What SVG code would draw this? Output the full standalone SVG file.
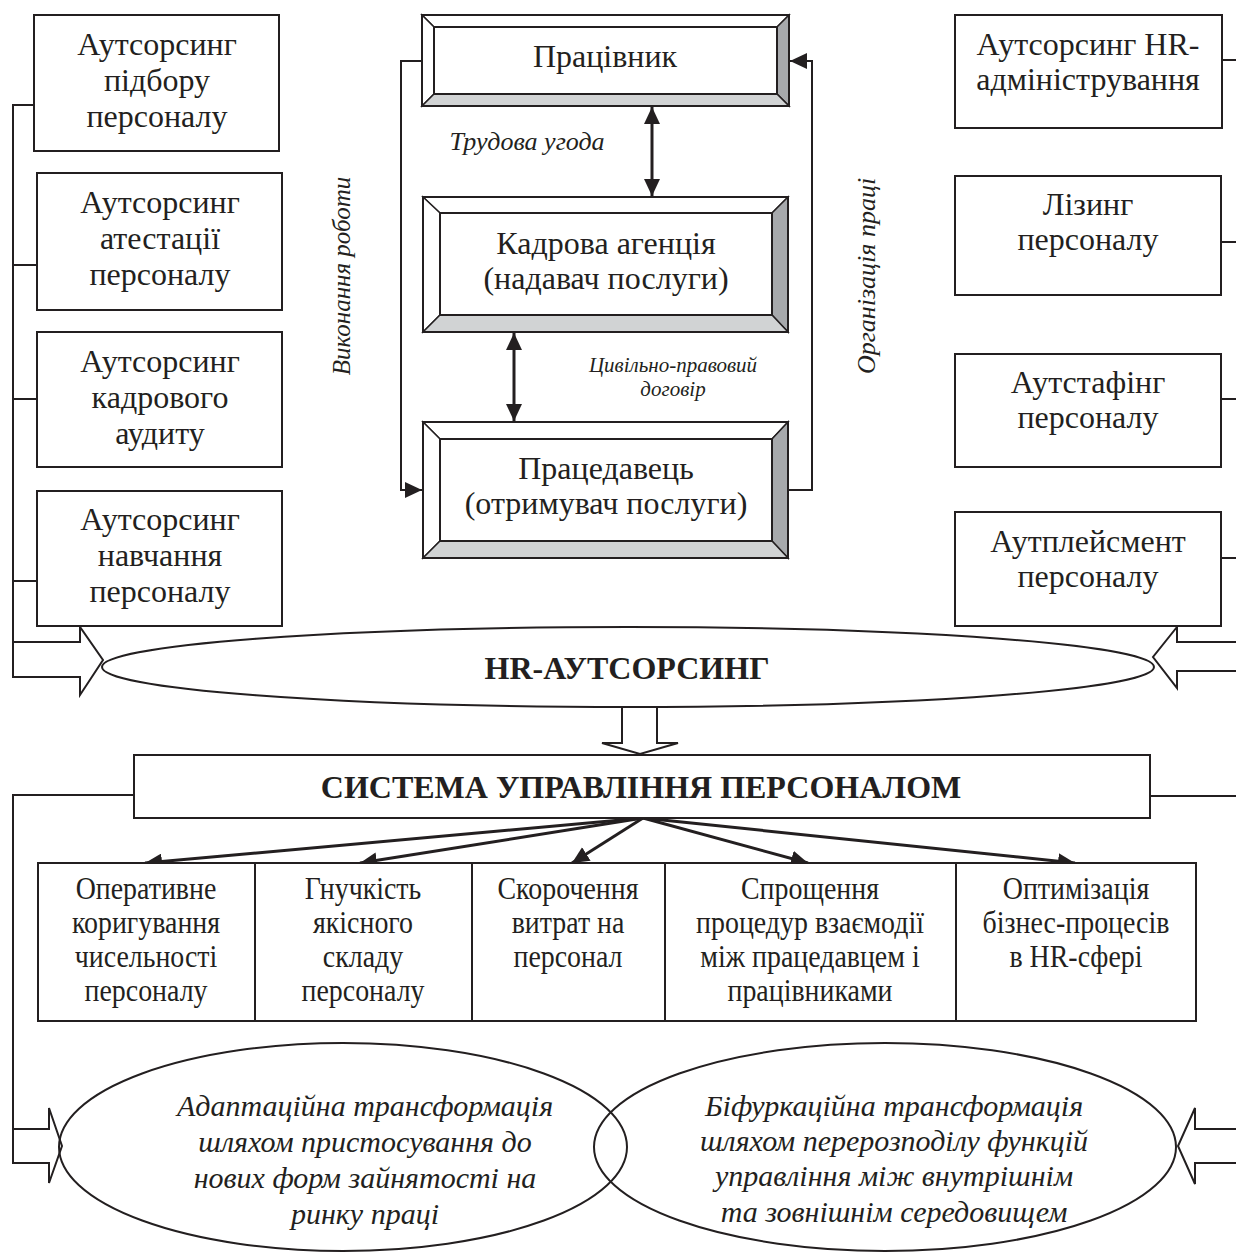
<svg xmlns="http://www.w3.org/2000/svg" width="1236" height="1255" viewBox="0 0 1236 1255">
<style>
.t{font-family:"Liberation Serif","Times New Roman",serif;font-size:32px;fill:#231f20;text-anchor:middle}
.c{font-size:31px}
.b{font-weight:bold;font-size:32px}
.i{font-style:italic;font-size:26px}
.ib{font-style:italic;font-size:30px}
.s{font-style:italic;font-size:21px}
.box{fill:#fff;stroke:#231f20;stroke-width:2}
.ln{fill:none;stroke:#231f20;stroke-width:2}
.th{fill:none;stroke:#231f20;stroke-width:3}
.bw{fill:#fff;stroke:#231f20;stroke-width:1.5;stroke-linejoin:miter}
.bd{fill:#a7a9ac;stroke:#231f20;stroke-width:1.5}
.bl{fill:#d1d3d4;stroke:#231f20;stroke-width:1.5}
.blk{fill:#fff;stroke:#231f20;stroke-width:2;stroke-linejoin:miter}
</style>
<defs>
<marker id="ah" markerUnits="userSpaceOnUse" markerWidth="18" markerHeight="16" refX="17" refY="8" orient="auto-start-reverse" viewBox="0 0 18 16">
<path d="M0,0 L17,8 L0,16 z" fill="#231f20"/>
</marker>
</defs>

<g id="block-arrows">
<polygon class="blk" points="13,642 80,642 80,627 103,660 80,695 80,677 13,677"/>
<polygon class="blk" points="1240,642 1177,642 1177,627 1153,657 1177,688 1177,671 1240,671"/>
<polygon class="blk" points="622,690 657,690 657,743 678,743 640,754 602,743 622,743"/>
<polygon class="blk" points="13,1129 49,1129 49,1108 62,1146 49,1183 49,1163 13,1163"/>
<polygon class="blk" points="1240,1129 1195,1129 1195,1108 1178,1146 1195,1184 1195,1163 1240,1163"/>
</g>

<g id="connectors">
<polyline class="ln" points="34,105 13,105 13,642"/>
<line class="ln" x1="13" y1="265" x2="37" y2="265"/>
<line class="ln" x1="13" y1="399" x2="37" y2="399"/>
<line class="ln" x1="13" y1="581" x2="37" y2="581"/>
<line class="ln" x1="1222" y1="60" x2="1236" y2="60"/>
<line class="ln" x1="1221" y1="242" x2="1236" y2="242"/>
<line class="ln" x1="1221" y1="399" x2="1236" y2="399"/>
<line class="ln" x1="1221" y1="558" x2="1236" y2="558"/>
<polyline class="ln" points="422,61 401,61 401,490 422,490" marker-end="url(#ah)"/>
<polyline class="ln" points="788,490 812,490 812,61 790,61" marker-end="url(#ah)"/>
<line class="th" x1="652" y1="107" x2="652" y2="196" marker-start="url(#ah)" marker-end="url(#ah)"/>
<line class="th" x1="514" y1="333" x2="514" y2="421" marker-start="url(#ah)" marker-end="url(#ah)"/>
<polyline class="ln" points="134,795 13,795 13,1129"/>
<line class="ln" x1="1150" y1="796" x2="1236" y2="796"/>
<line class="th" x1="643" y1="818" x2="145" y2="863" marker-end="url(#ah)"/>
<line class="th" x1="643" y1="818" x2="360" y2="863" marker-end="url(#ah)"/>
<line class="th" x1="643" y1="818" x2="572" y2="863" marker-end="url(#ah)"/>
<line class="th" x1="643" y1="818" x2="808" y2="863" marker-end="url(#ah)"/>
<line class="th" x1="643" y1="818" x2="1075" y2="863" marker-end="url(#ah)"/>
</g>

<g id="n-pidbir"><rect class="box" x="34" y="15" width="245" height="136"/>
<text class="t" x="157" y="55">Аутсорсинг</text><text class="t" x="157" y="91">підбору</text><text class="t" x="157" y="127">персоналу</text></g>
<g id="n-atest"><rect class="box" x="37" y="173" width="245" height="137"/>
<text class="t" x="160" y="213">Аутсорсинг</text><text class="t" x="160" y="249">атестації</text><text class="t" x="160" y="285">персоналу</text></g>
<g id="n-audyt"><rect class="box" x="37" y="332" width="245" height="135"/>
<text class="t" x="160" y="372">Аутсорсинг</text><text class="t" x="160" y="408">кадрового</text><text class="t" x="160" y="444">аудиту</text></g>
<g id="n-navch"><rect class="box" x="37" y="491" width="245" height="135"/>
<text class="t" x="160" y="530">Аутсорсинг</text><text class="t" x="160" y="566">навчання</text><text class="t" x="160" y="602">персоналу</text></g>

<g id="n-hradm"><rect class="box" x="955" y="15" width="267" height="113"/>
<text class="t" x="1088" y="55">Аутсорсинг HR-</text><text class="t" x="1088" y="90">адміністрування</text></g>
<g id="n-lizyng"><rect class="box" x="955" y="176" width="266" height="119"/>
<text class="t" x="1088" y="215">Лізинг</text><text class="t" x="1088" y="250">персоналу</text></g>
<g id="n-autstaf"><rect class="box" x="955" y="354" width="266" height="113"/>
<text class="t" x="1088" y="393">Аутстафінг</text><text class="t" x="1088" y="428">персоналу</text></g>
<g id="n-autpl"><rect class="box" x="955" y="512" width="266" height="114"/>
<text class="t" x="1088" y="552">Аутплейсмент</text><text class="t" x="1088" y="587">персоналу</text></g>

<g id="n-pracivnyk">
<polygon class="bw" points="422,15 789,15 777,27 434,27"/>
<polygon class="bw" points="422,15 434,27 434,94 422,106"/>
<polygon class="bd" points="789,15 789,106 777,94 777,27"/>
<polygon class="bl" points="422,106 434,94 777,94 789,106"/>
<rect x="422" y="15" width="367" height="91" fill="none" stroke="#231f20" stroke-width="2"/>
<rect x="434" y="27" width="343" height="67" fill="none" stroke="#231f20" stroke-width="2"/>
<text class="t" x="605" y="67">Працівник</text>
</g>
<g id="n-agencia">
<polygon class="bw" points="423,197 788,197 772,213 440,213"/>
<polygon class="bw" points="423,197 440,213 440,315 423,332"/>
<polygon class="bd" points="788,197 788,332 772,315 772,213"/>
<polygon class="bl" points="423,332 440,315 772,315 788,332"/>
<rect x="423" y="197" width="365" height="135" fill="none" stroke="#231f20" stroke-width="2"/>
<rect x="440" y="213" width="332" height="102" fill="none" stroke="#231f20" stroke-width="2"/>
<text class="t" x="606" y="254">Кадрова агенція</text>
<text class="t" x="606" y="289">(надавач послуги)</text>
</g>
<g id="n-pracedavec">
<polygon class="bw" points="423,422 788,422 772,439 440,439"/>
<polygon class="bw" points="423,422 440,439 440,541 423,558"/>
<polygon class="bd" points="788,422 788,558 772,541 772,439"/>
<polygon class="bl" points="423,558 440,541 772,541 788,558"/>
<rect x="423" y="422" width="365" height="136" fill="none" stroke="#231f20" stroke-width="2"/>
<rect x="440" y="439" width="332" height="102" fill="none" stroke="#231f20" stroke-width="2"/>
<text class="t" x="606" y="479">Працедавець</text>
<text class="t" x="606" y="514">(отримувач послуги)</text>
</g>

<g id="labels">
<text class="t i" x="527" y="150">Трудова угода</text>
<text class="t s" x="673" y="372">Цивільно-правовий</text>
<text class="t s" x="673" y="396">договір</text>
<text class="t i" style="font-size:25px" transform="translate(350,276) rotate(-90)">Виконання роботи</text>
<text class="t i" transform="translate(875,276) rotate(-90)">Організація праці</text>
</g>

<g id="n-hr">
<ellipse class="box" cx="628" cy="667" rx="526" ry="40"/>
<text class="t b" x="627" y="679">HR-АУТСОРСИНГ</text>
</g>

<g id="n-system">
<rect class="box" x="134" y="755" width="1016" height="63"/>
<text class="t b" x="641" y="798">СИСТЕМА УПРАВЛІННЯ ПЕРСОНАЛОМ</text>
</g>

<g id="n-b1"><rect class="box" x="38" y="863" width="217" height="158"/>
<g transform="translate(146 0) scale(0.9 1)"><text class="t c" x="0" y="899">Оперативне</text><text class="t c" x="0" y="933">коригування</text><text class="t c" x="0" y="967">чисельності</text><text class="t c" x="0" y="1001">персоналу</text></g></g>
<g id="n-b2"><rect class="box" x="255" y="863" width="217" height="158"/>
<g transform="translate(363 0) scale(0.9 1)"><text class="t c" x="0" y="899">Гнучкість</text><text class="t c" x="0" y="933">якісного</text><text class="t c" x="0" y="967">складу</text><text class="t c" x="0" y="1001">персоналу</text></g></g>
<g id="n-b3"><rect class="box" x="472" y="863" width="193" height="158"/>
<g transform="translate(568 0) scale(0.9 1)"><text class="t c" x="0" y="899">Скорочення</text><text class="t c" x="0" y="933">витрат на</text><text class="t c" x="0" y="967">персонал</text></g></g>
<g id="n-b4"><rect class="box" x="665" y="863" width="291" height="158"/>
<g transform="translate(810 0) scale(0.9 1)"><text class="t c" x="0" y="899">Спрощення</text><text class="t c" x="0" y="933">процедур взаємодії</text><text class="t c" x="0" y="967">між працедавцем і</text><text class="t c" x="0" y="1001">працівниками</text></g></g>
<g id="n-b5"><rect class="box" x="956" y="863" width="240" height="158"/>
<g transform="translate(1076 0) scale(0.9 1)"><text class="t c" x="0" y="899">Оптимізація</text><text class="t c" x="0" y="933">бізнес-процесів</text><text class="t c" x="0" y="967">в HR-сфері</text></g></g>

<g id="n-adapt">
<ellipse cx="343" cy="1147" rx="284" ry="104" fill="none" stroke="#231f20" stroke-width="2"/>
<text class="t ib" x="365" y="1116">Адаптаційна трансформація</text>
<text class="t ib" x="365" y="1152">шляхом пристосування до</text>
<text class="t ib" x="365" y="1188">нових форм зайнятості на</text>
<text class="t ib" x="365" y="1224">ринку праці</text>
</g>
<g id="n-bifurk">
<ellipse cx="885" cy="1147" rx="291" ry="104" fill="none" stroke="#231f20" stroke-width="2"/>
<text class="t ib" x="894" y="1116">Біфуркаційна трансформація</text>
<text class="t ib" x="894" y="1151">шляхом перерозподілу функцій</text>
<text class="t ib" x="894" y="1186">управління між внутрішнім</text>
<text class="t ib" x="894" y="1222">та зовнішнім середовищем</text>
</g>
</svg>
